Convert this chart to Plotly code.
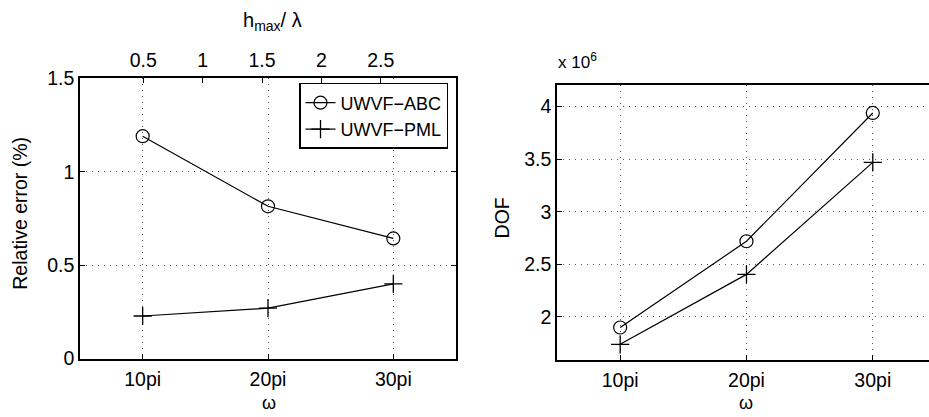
import plotly.graph_objects as go

W, H = 929, 417

# Frequencies (multiples of pi) and their tick labels
omega = [10, 20, 30]
omega_labels = ["10pi", "20pi", "30pi"]

# Relative error (%) for the two boundary treatments
err_abc = [1.19, 0.815, 0.643]
err_pml = [0.228, 0.27, 0.40]

# Degrees of freedom
dof_abc = [1.90e6, 2.72e6, 3.94e6]
dof_pml = [1.74e6, 2.405e6, 3.47e6]

# Secondary (top) axis: h_max / lambda
hl_ticks = [0.5, 1, 1.5, 2, 2.5]
hl_labels = ["0.5", "1", "1.5", "2", "2.5"]

err_ticks = [0, 0.5, 1, 1.5]
err_labels = ["0", "0.5", "1", "1.5"]
dof_ticks = [2e6, 2.5e6, 3e6, 3.5e6, 4e6]
dof_labels = ["2", "2.5", "3", "3.5", "4"]

FONT = "Liberation Sans, Arial, Helvetica, sans-serif"
MINUS = "\u2212"
TICK_SIZE = 19.5


def px(x):
    return x / W


def py(y):
    return 1 - y / H


# panel boxes in pixels
L_x0, L_x1, L_y0, L_y1 = 80, 456, 71, 367
R_x0, R_y0, R_y1 = 557, 78, 368

fig = go.Figure()

line = dict(color="black", width=1.2)
circle = dict(symbol="circle-open", size=13, color="black", line=dict(width=1.2))
cross = dict(symbol="cross-thin-open", size=13, color="black", line=dict(width=1.3, color="black"))

fig.add_trace(go.Scatter(x=omega, y=err_abc, mode="lines+markers", name="UWVF" + MINUS + "ABC",
                         line=line, marker=circle, xaxis="x", yaxis="y"))
fig.add_trace(go.Scatter(x=omega, y=err_pml, mode="lines+markers", name="UWVF" + MINUS + "PML",
                         line=line, marker=cross, xaxis="x", yaxis="y"))
fig.add_trace(go.Scatter(x=omega, y=dof_abc, mode="lines+markers", showlegend=False,
                         line=line, marker=circle, xaxis="x2", yaxis="y2"))
fig.add_trace(go.Scatter(x=omega, y=dof_pml, mode="lines+markers", showlegend=False,
                         line=line, marker=cross, xaxis="x2", yaxis="y2"))
# empty trace so the top h_max/lambda axis is laid out
fig.add_trace(go.Scatter(x=hl_ticks, y=[None] * len(hl_ticks), mode="markers", showlegend=False,
                         hoverinfo="skip", xaxis="x3", yaxis="y"))

grid = dict(showgrid=True, gridcolor="#555", gridwidth=1, griddash="1px,5px")
common = dict(showline=True, linecolor="black", linewidth=1.5, ticks="inside", ticklen=5,
              tickcolor="black", tickfont=dict(family=FONT, size=TICK_SIZE, color="black"),
              zeroline=False, **grid)

# left panel
fig.update_layout(
    xaxis=dict(domain=[px(L_x0), px(L_x1)], range=[5, 35], tickvals=omega, ticktext=omega_labels,
               anchor="y", mirror=True, ticklabelstandoff=2, **common),
    yaxis=dict(domain=[py(L_y1), py(L_y0)], range=[0, 1.5], tickvals=err_ticks, ticktext=err_labels,
               anchor="x", mirror="ticks", **common),
    xaxis3=dict(overlaying="x", side="top", anchor="y", range=[-0.032, 3.133], tickvals=hl_ticks,
                ticktext=hl_labels, showline=False, ticks="inside", ticklen=5, tickcolor="black",
                tickfont=dict(family=FONT, size=TICK_SIZE, color="black"), showgrid=False,
                zeroline=False, ticklabelstandoff=6),
    # right panel
    xaxis2=dict(domain=[px(R_x0), 1.0], range=[5, 34.45], tickvals=omega, ticktext=omega_labels,
                anchor="y2", mirror=True, ticklabelstandoff=2, **common),
    yaxis2=dict(domain=[py(R_y1), py(R_y0)], range=[1.595e6, 4.207e6], tickvals=dof_ticks,
                ticktext=dof_labels, anchor="x2", **common),
)

ann = []
title_font = dict(family=FONT, size=19.5, color="black")
omega_font = dict(family=FONT, size=18, color="black")
ann.append(dict(text="Relative error (%)", x=px(20), y=py(214), textangle=-90, font=title_font))
ann.append(dict(text="DOF", x=px(502), y=py(219), textangle=-90, font=title_font))
ann.append(dict(text="\u03c9", x=px(269), y=py(414), font=omega_font))
ann.append(dict(text="\u03c9", x=px(746), y=py(414), font=omega_font))
ann.append(dict(text="h<sub>max</sub>/ \u03bb", x=px(272), y=py(11),
                font=dict(family=FONT, size=20, color="black")))
ann.append(dict(text="x 10<sup>6</sup>", x=px(556), y=py(53), xanchor="left",
                font=dict(family=FONT, size=17, color="black")))
for a in ann:
    a.update(xref="paper", yref="paper", showarrow=False)
    a.setdefault("xanchor", "center")
    a.setdefault("yanchor", "middle")

fig.update_layout(
    width=W, height=H, margin=dict(l=0, r=0, t=0, b=0),
    paper_bgcolor="white", plot_bgcolor="white",
    font=dict(family=FONT, color="black"),
    annotations=ann,
    legend=dict(x=px(448), y=py(76), xanchor="right", yanchor="top", bgcolor="white",
                bordercolor="black", borderwidth=1.5, font=dict(family=FONT, size=18, color="black"),
                itemwidth=30, tracegroupgap=0),
    showlegend=True,
)

fig.write_html("out.html")
